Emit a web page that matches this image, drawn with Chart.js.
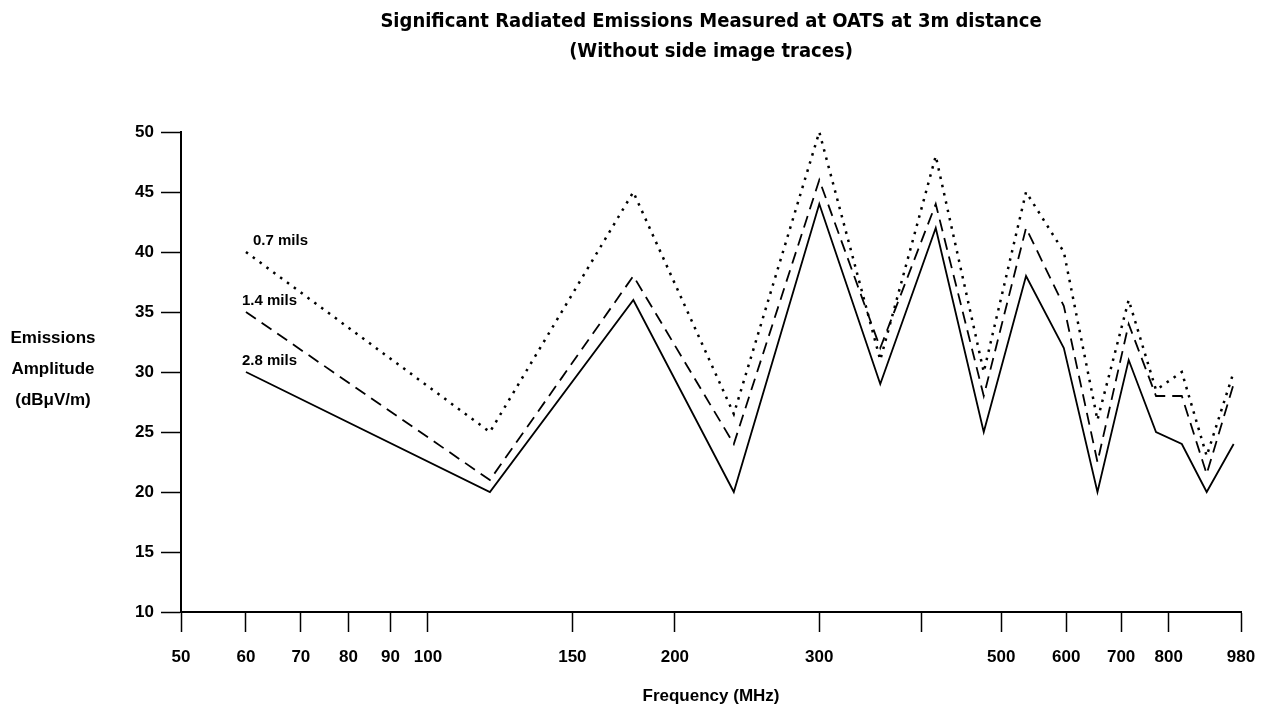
<!DOCTYPE html>
<html>
<head>
<meta charset="utf-8">
<title>Significant Radiated Emissions</title>
<script src="https://cdn.jsdelivr.net/npm/chart.js@4.4.1/dist/chart.umd.min.js"></script>
<style>
  body { margin: 0; background: #fff; }
  #wrap { width: 1263px; height: 708px; position: relative; }
</style>
</head>
<body>
<div id="wrap"><canvas id="chart"></canvas></div>
<script>
// DATA
const frequencies = [60, 119, 178, 236, 300, 356, 416, 476, 536, 596, 655, 715, 772, 830, 890, 960];
const mils07 = [40, 25, 45, 26.5, 50, 31, 48, 30, 45, 40, 26, 36, 28.5, 30, 23, 30];
const mils14 = [35, 21, 38, 24, 46, 32, 44, 28, 42, 35.5, 22.5, 34, 28, 28, 21.5, 29];
const mils28 = [30, 20, 36, 20, 44, 29, 42, 25, 38, 32, 20, 31, 25, 24, 20, 24];
const seriesNames = ["0.7 mils", "1.4 mils", "2.8 mils"];

const xTickValues = [50, 60, 70, 80, 90, 100, 150, 200, 300, 400, 500, 600, 700, 800, 980];
const xTickLabels = ["50", "60", "70", "80", "90", "100", "150", "200", "300", "", "500", "600", "700", "800", "980"];

const titleLines = ["Significant Radiated Emissions Measured at OATS at 3m distance", "(Without side image traces)"];
const yTitleLines = ["Emissions", "Amplitude", "(dB\u03BCV/m)"];

const FONT = "'Liberation Sans', Arial, sans-serif";
const NARROW = "'Liberation Sans Narrow', 'DejaVu Sans Condensed', " + FONT;

function toPoints(values) {
  return frequencies.map((f, i) => ({ x: f, y: values[i] }));
}

// titles, y-axis caption and the labels at the start of each trace
const textPlugin = {
  id: "textPlugin",
  afterDraw(chart) {
    const ctx = chart.ctx;
    const area = chart.chartArea;
    ctx.save();
    ctx.fillStyle = "#000";
    ctx.textAlign = "center";
    ctx.textBaseline = "middle";

    ctx.font = "bold 20px " + NARROW;
    const cx = (area.left + area.right) / 2;
    titleLines.forEach((t, i) => ctx.fillText(t, cx, 22 + i * 30));

    ctx.font = "bold 17px " + FONT;
    yTitleLines.forEach((t, i) => ctx.fillText(t, 53, 338 + i * 31));

    ctx.textAlign = "left";
    ctx.font = "bold 15px " + FONT;
    chart.data.datasets.forEach((ds, i) => {
      const p = chart.getDatasetMeta(i).data[0];
      const dx = i === 0 ? 7 : -4;
      ctx.fillText(ds.label, p.x + dx, p.y - 11);
    });
    ctx.restore();
  },
};

new Chart(document.getElementById("chart"), {
  type: "line",
  data: {
    datasets: [
      {
        label: seriesNames[0],
        data: toPoints(mils07),
        borderColor: "#000",
        borderWidth: 2.5,
        borderDash: [2.5, 6],
      },
      {
        label: seriesNames[1],
        data: toPoints(mils14),
        borderColor: "#000",
        borderWidth: 1.8,
        borderDash: [12, 7],
      },
      {
        label: seriesNames[2],
        data: toPoints(mils28),
        borderColor: "#000",
        borderWidth: 1.8,
      },
    ],
  },
  options: {
    responsive: true,
    maintainAspectRatio: false,
    animation: false,
    layout: { padding: { top: 132, right: 22, bottom: 0, left: 0 } },
    elements: { point: { radius: 0 }, line: { tension: 0 } },
    scales: {
      x: {
        type: "logarithmic",
        min: 50,
        max: 980,
        afterBuildTicks: scale => {
          scale.ticks = xTickValues.map(v => ({ value: v }));
        },
        afterFit: scale => {
          scale.height = 96;
        },
        grid: { drawOnChartArea: false, tickLength: 20, tickColor: "#000", tickWidth: 1.5 },
        border: { display: true, color: "#000", width: 2 },
        ticks: {
          autoSkip: false,
          maxRotation: 0,
          padding: 1,
          color: "#000",
          // tall line box pushes the labels down without widening the side padding
          font: { family: FONT, size: 17, weight: "bold", lineHeight: "48px" },
          callback: (value, index) => xTickLabels[index],
        },
        title: {
          display: true,
          text: "Frequency (MHz)",
          color: "#000",
          font: { family: FONT, size: 17, weight: "bold" },
          padding: { top: 0, bottom: 1 },
        },
      },
      y: {
        min: 10,
        max: 50,
        afterFit: scale => {
          scale.width = 181;
        },
        grid: { drawOnChartArea: false, tickLength: 20, tickColor: "#000", tickWidth: 1.5 },
        border: { display: true, color: "#000", width: 2 },
        ticks: {
          stepSize: 5,
          padding: 7,
          color: "#000",
          font: { family: FONT, size: 17, weight: "bold" },
        },
      },
    },
    plugins: {
      legend: { display: false },
      tooltip: { enabled: false },
    },
  },
  plugins: [textPlugin],
});
</script>
</body>
</html>
